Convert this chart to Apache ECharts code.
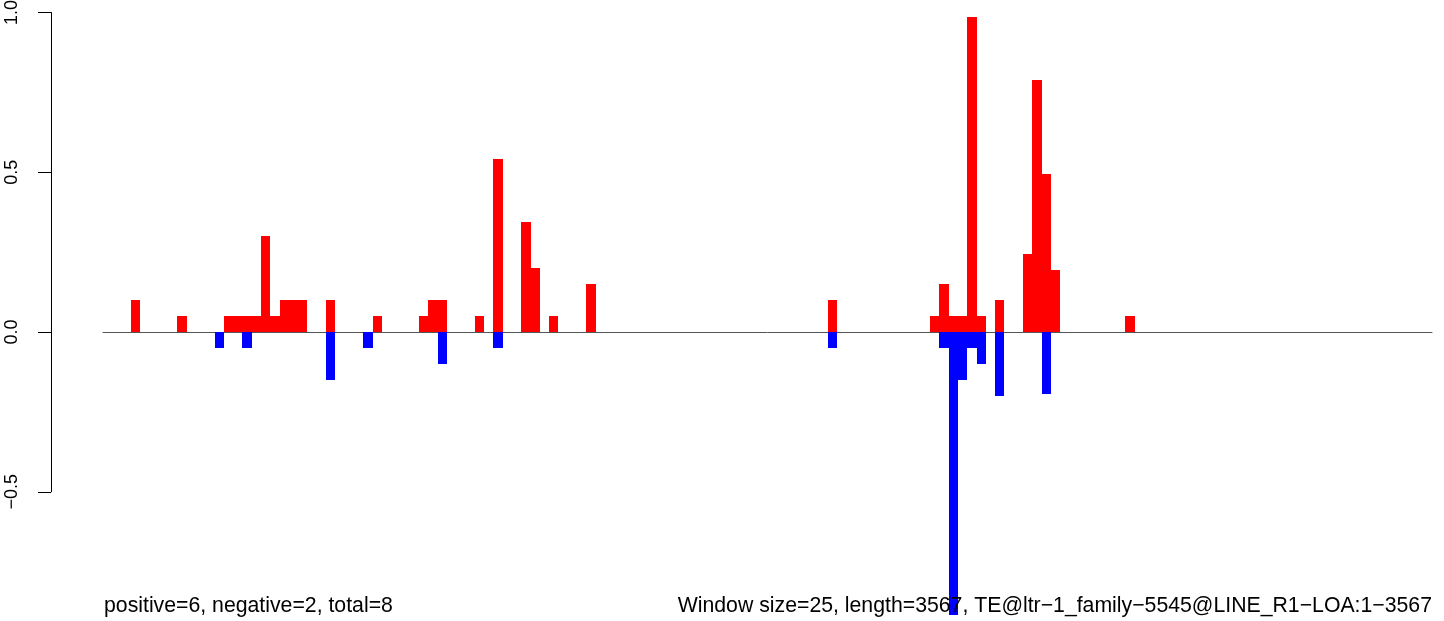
<!DOCTYPE html>
<html>
<head>
<meta charset="utf-8">
<script src="https://cdn.jsdelivr.net/npm/echarts@6/dist/echarts.min.js"></script>
<style>
html,body{margin:0;padding:0;background:#fff;}
#chart{width:1444px;height:621px;}
</style>
</head>
<body>
<div id="chart"></div>
<script>
// number of windows (length 3567 / window 25)
var windowCount = 143;
// positive (red) windows and values
var posWindows = [3, 8, 13, 14, 15, 16, 17, 18, 19, 20, 21, 24, 29, 34, 35, 36, 40, 42, 45, 46, 48, 52, 78, 89, 90, 91, 92, 93, 94, 96, 99, 100, 101, 102, 110];
var posValues  = [0.1, 0.05, 0.05, 0.05, 0.05, 0.05, 0.3, 0.05, 0.1, 0.1, 0.1, 0.1, 0.05, 0.05, 0.1, 0.1, 0.05, 0.54, 0.345, 0.2, 0.05, 0.15, 0.1, 0.05, 0.15, 0.05, 0.05, 0.985, 0.05, 0.1, 0.245, 0.79, 0.495, 0.195, 0.05];
// negative (blue) windows and values
var negWindows = [12, 15, 24, 28, 36, 42, 78, 90, 91, 92, 93, 94, 96, 101];
var negValues  = [-0.05, -0.05, -0.15, -0.05, -0.1, -0.05, -0.05, -0.05, -0.885, -0.15, -0.05, -0.1, -0.2, -0.195];
// y-axis tick labels
var yTicks = [-0.5, 0.0, 0.5, 1.0];
var leftText = "positive=6, negative=2, total=8";
var rightText = "Window size=25, length=3567, TE@ltr\u22121_family\u22125545@LINE_R1\u2212LOA:1\u22123567";

var categories = [];
for (var i = 0; i < windowCount; i++) categories.push(String(i));
function pairs(idx, vals) {
  var arr = [];
  for (var k = 0; k < idx.length; k++) arr.push([idx[k], vals[k]]);
  return arr;
}
var posData = pairs(posWindows, posValues);
var negData = pairs(negWindows, negValues);

function renderBar(color) {
  return function (params, api) {
    var idx = api.value(0), val = api.value(1);
    var base = api.coord([idx, 0]);
    var top = api.coord([idx, val]);
    var w = api.size([1, 0])[0];
    var x0 = Math.round(base[0] - w / 2), x1 = Math.round(base[0] + w / 2);
    var y0 = Math.round(base[1]), y1 = Math.round(top[1]);
    return {
      type: 'rect',
      shape: {x: x0, y: Math.min(y0, y1), width: x1 - x0, height: Math.abs(y1 - y0)},
      style: {fill: color}
    };
  };
}

var FONT = '"Liberation Sans", Arial, Helvetica, sans-serif';
var chart = echarts.init(document.getElementById('chart'), null, {renderer: 'canvas'});
var pxPerUnit = 319.5, zeroY = 332;
chart.setOption({
  animation: false,
  backgroundColor: '#ffffff',
  grid: [
    {left: 103, right: 12, top: 0, height: 621, containLabel: false, outerBoundsMode: 'none'},
    {left: 51, top: 12.5, height: 479.25, width: 1, containLabel: false, outerBoundsMode: 'none'}
  ],
  xAxis: [
    {type: 'category', gridIndex: 0, data: categories,
     axisLine: {show: true, onZero: true, lineStyle: {color: '#555555', width: 1}},
     axisTick: {show: false}, axisLabel: {show: false}, splitLine: {show: false}},
    {type: 'value', gridIndex: 1, show: false, min: 0, max: 1}
  ],
  yAxis: [
    {type: 'value', gridIndex: 0, show: false,
     min: -(621 - zeroY) / pxPerUnit, max: zeroY / pxPerUnit,
     splitLine: {show: false}},
    {type: 'value', gridIndex: 1, min: yTicks[0], max: yTicks[yTicks.length - 1], interval: 0.5,
     axisLine: {show: true, lineStyle: {color: '#000000', width: 1}},
     axisTick: {show: true, length: 13, lineStyle: {color: '#000000', width: 1}},
     splitLine: {show: false},
     axisLabel: {show: true, rotate: 90, margin: 30, fontSize: 18, color: '#000000', fontFamily: FONT,
       formatter: function (v) { return v.toFixed(1).replace('-', '\u2212'); }}}
  ],
  series: [
    {type: 'custom', xAxisIndex: 0, yAxisIndex: 0, data: posData,
     renderItem: renderBar('#ff0000'), encode: {x: 0, y: 1}, silent: true, clip: false},
    {type: 'custom', xAxisIndex: 0, yAxisIndex: 0, data: negData,
     renderItem: renderBar('#0000ff'), encode: {x: 0, y: 1}, silent: true, clip: false}
  ],
  graphic: [
    {type: 'text', left: 104, top: 596, z: 100,
     style: {text: leftText, fontSize: 21.25, fontFamily: FONT, fill: '#000000'}},
    {type: 'text', right: 12, top: 596, z: 100,
     style: {text: rightText, fontSize: 21.25, fontFamily: FONT, fill: '#000000'}}
  ]
});
</script>
</body>
</html>
